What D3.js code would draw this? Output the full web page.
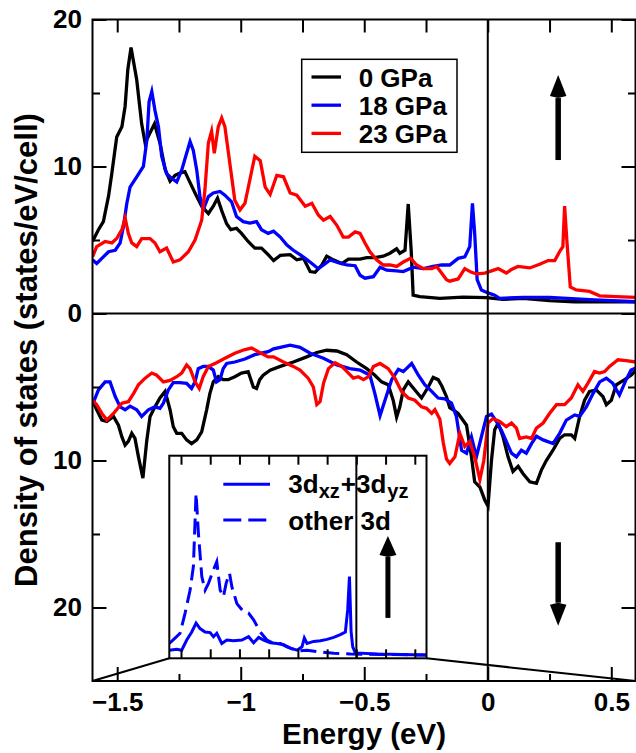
<!DOCTYPE html>
<html>
<head>
<meta charset="utf-8">
<script src="https://cdn.jsdelivr.net/npm/d3@7"></script>
<style>
  body { margin: 0; background: #fff; }
  svg { display: block; }
  text { font-family: "Liberation Sans", Arial, Helvetica, sans-serif; font-weight: bold; fill: #000; }
</style>
</head>
<body>
<svg id="chart" width="636" height="753"></svg>
<script>
// ---- Spin-up DOS [energy (eV), states/eV/cell] ----
const up0GPa = [[-1.600,4.9],[-1.576,5.7],[-1.556,6.25],[-1.535,8.0],[-1.522,9.5],[-1.502,12.0],[-1.481,12.7],[-1.468,14.1],[-1.457,16.6],[-1.444,18.1],[-1.421,15.9],[-1.401,12.9],[-1.387,11.6],[-1.367,12.3],[-1.349,12.9],[-1.327,11.6],[-1.306,9.8],[-1.286,9.0],[-1.266,9.4],[-1.246,9.55],[-1.226,9.65],[-1.205,8.9],[-1.185,8.2],[-1.158,7.3],[-1.131,6.8],[-1.111,7.3],[-1.094,7.85],[-1.077,7.0],[-1.057,6.1],[-1.040,5.7],[-1.017,5.8],[-0.997,5.45],[-0.970,4.9],[-0.943,4.45],[-0.916,4.45],[-0.889,4.0],[-0.867,3.6],[-0.840,3.95],[-0.800,4.0],[-0.773,3.65],[-0.746,3.75],[-0.719,2.85],[-0.699,2.8],[-0.672,3.3],[-0.652,3.9],[-0.625,3.65],[-0.591,3.4],[-0.564,3.7],[-0.517,3.7],[-0.490,3.8],[-0.457,3.8],[-0.423,3.9],[-0.396,4.1],[-0.369,4.4],[-0.356,4.1],[-0.335,4.3],[-0.322,7.45],[-0.310,4.3],[-0.302,1.25],[-0.275,1.15],[-0.194,1.03],[-0.100,1.12],[-0.005,1.08],[0.060,0.96],[0.143,1.03],[0.250,0.87],[0.350,0.8],[0.600,0.8]];

const up18GPa = [[-1.600,3.65],[-1.583,3.4],[-1.556,3.85],[-1.535,4.2],[-1.508,4.3],[-1.488,4.8],[-1.475,5.9],[-1.461,7.5],[-1.448,8.6],[-1.421,9.3],[-1.394,10.0],[-1.380,11.8],[-1.371,14.4],[-1.360,15.1],[-1.347,13.8],[-1.333,12.7],[-1.320,10.7],[-1.300,9.5],[-1.280,9.2],[-1.259,8.95],[-1.239,9.75],[-1.219,10.9],[-1.205,11.7],[-1.192,11.1],[-1.178,9.75],[-1.165,7.95],[-1.152,7.05],[-1.131,7.95],[-1.111,8.2],[-1.084,8.3],[-1.064,8.05],[-1.037,7.6],[-1.017,6.6],[-0.990,6.25],[-0.963,6.15],[-0.936,6.25],[-0.916,5.7],[-0.889,5.45],[-0.867,5.6],[-0.840,5.2],[-0.813,4.65],[-0.787,4.3],[-0.760,4.0],[-0.739,3.75],[-0.712,3.4],[-0.686,3.05],[-0.665,3.3],[-0.638,3.65],[-0.605,3.45],[-0.571,3.3],[-0.537,3.25],[-0.517,2.6],[-0.497,2.4],[-0.463,2.5],[-0.436,3.15],[-0.409,2.95],[-0.369,2.9],[-0.342,2.85],[-0.302,3.15],[-0.261,3.05],[-0.221,3.2],[-0.187,3.3],[-0.154,3.3],[-0.120,3.75],[-0.093,3.85],[-0.073,4.55],[-0.062,7.5],[-0.053,5.45],[-0.043,2.3],[-0.026,1.6],[0.001,1.4],[0.028,1.25],[0.048,1.03],[0.143,1.1],[0.250,1.1],[0.412,0.95],[0.600,0.8]];

const up23GPa = [[-1.600,3.85],[-1.583,4.55],[-1.549,4.9],[-1.522,4.8],[-1.502,5.1],[-1.481,5.7],[-1.468,6.5],[-1.455,5.45],[-1.441,4.8],[-1.421,4.55],[-1.401,5.1],[-1.367,5.1],[-1.347,4.8],[-1.327,4.2],[-1.300,4.45],[-1.273,3.5],[-1.246,3.65],[-1.212,4.2],[-1.185,5.0],[-1.158,6.35],[-1.145,8.4],[-1.131,11.6],[-1.118,12.4],[-1.107,10.9],[-1.091,12.7],[-1.077,13.3],[-1.064,12.7],[-1.044,10.2],[-1.024,7.7],[-1.003,7.05],[-0.983,7.5],[-0.963,9.1],[-0.943,10.7],[-0.921,10.4],[-0.901,8.6],[-0.881,8.1],[-0.854,9.4],[-0.827,9.3],[-0.800,8.2],[-0.773,8.05],[-0.739,7.3],[-0.712,7.5],[-0.686,6.7],[-0.665,6.35],[-0.638,6.6],[-0.611,6.0],[-0.585,5.2],[-0.564,5.2],[-0.537,5.55],[-0.517,5.45],[-0.497,4.8],[-0.477,4.2],[-0.450,3.65],[-0.423,3.3],[-0.396,3.3],[-0.369,3.2],[-0.342,3.5],[-0.312,3.75],[-0.288,3.3],[-0.261,3.05],[-0.227,3.05],[-0.207,3.2],[-0.187,2.75],[-0.167,2.3],[-0.154,2.2],[-0.120,2.35],[-0.093,3.05],[-0.066,2.8],[-0.046,2.7],[-0.012,2.75],[0.015,2.9],[0.042,3.05],[0.075,2.75],[0.096,3.0],[0.122,3.2],[0.170,3.1],[0.210,3.35],[0.244,3.6],[0.271,3.6],[0.294,4.3],[0.304,4.55],[0.311,7.3],[0.320,5.0],[0.334,1.8],[0.358,1.6],[0.412,1.5],[0.453,1.2],[0.520,1.15],[0.600,1.1]];

// ---- Spin-down DOS (magnitudes; drawn below the zero line) ----
const down0GPa = [[-1.600,5.9],[-1.583,6.55],[-1.562,7.25],[-1.542,7.35],[-1.515,7.0],[-1.495,7.6],[-1.481,8.4],[-1.468,8.95],[-1.455,8.7],[-1.441,8.15],[-1.428,8.5],[-1.414,9.75],[-1.396,11.2],[-1.380,8.6],[-1.367,7.0],[-1.347,6.35],[-1.327,5.75],[-1.306,5.3],[-1.286,6.55],[-1.273,7.7],[-1.259,8.15],[-1.239,8.15],[-1.219,8.6],[-1.199,8.85],[-1.178,8.6],[-1.158,8.05],[-1.138,6.55],[-1.125,5.45],[-1.111,4.65],[-1.091,4.3],[-1.071,4.5],[-1.051,4.5],[-1.024,4.3],[-0.997,4.05],[-0.970,3.95],[-0.949,5.0],[-0.936,5.1],[-0.923,4.5],[-0.909,4.2],[-0.881,3.85],[-0.840,3.6],[-0.787,3.3],[-0.733,2.95],[-0.692,2.65],[-0.652,2.5],[-0.611,2.55],[-0.571,2.8],[-0.531,3.3],[-0.490,3.75],[-0.457,4.2],[-0.430,4.65],[-0.403,4.85],[-0.383,5.9],[-0.369,7.05],[-0.356,6.35],[-0.342,5.2],[-0.322,4.65],[-0.295,5.2],[-0.268,5.75],[-0.241,5.0],[-0.221,4.35],[-0.201,4.5],[-0.187,4.9],[-0.167,5.66],[-0.154,6.4],[-0.140,6.55],[-0.120,6.8],[-0.086,7.6],[-0.066,9.75],[-0.053,11.45],[-0.032,11.8],[-0.012,12.7],[0.001,13.1],[0.015,10.0],[0.028,7.9],[0.042,7.45],[0.062,8.4],[0.082,9.75],[0.102,10.75],[0.123,10.4],[0.143,10.9],[0.170,11.45],[0.197,11.55],[0.217,10.65],[0.237,10.0],[0.264,9.3],[0.291,8.5],[0.311,8.25],[0.338,8.25],[0.352,8.5],[0.372,7.0],[0.392,5.9],[0.412,5.3],[0.439,5.2],[0.466,5.65],[0.480,6.2],[0.500,5.9],[0.520,4.85],[0.554,4.5],[0.580,4.2],[0.600,3.85]];

const down18GPa = [[-1.600,6.2],[-1.576,5.2],[-1.549,4.65],[-1.529,4.65],[-1.508,5.65],[-1.488,6.35],[-1.468,6.55],[-1.448,6.3],[-1.421,6.55],[-1.401,7.0],[-1.374,6.55],[-1.347,6.35],[-1.327,6.45],[-1.313,6.1],[-1.293,5.2],[-1.273,4.7],[-1.246,4.7],[-1.219,4.75],[-1.199,5.1],[-1.185,4.65],[-1.172,3.75],[-1.152,3.6],[-1.131,3.6],[-1.111,3.85],[-1.098,4.65],[-1.084,4.5],[-1.071,3.75],[-1.057,3.4],[-1.024,3.3],[-0.983,3.1],[-0.943,2.8],[-0.889,2.6],[-0.867,2.4],[-0.800,2.15],[-0.760,2.3],[-0.719,2.7],[-0.665,3.05],[-0.611,3.5],[-0.558,3.75],[-0.517,3.85],[-0.477,4.2],[-0.457,5.45],[-0.436,6.95],[-0.416,5.9],[-0.389,4.5],[-0.362,3.8],[-0.342,3.95],[-0.308,3.4],[-0.281,4.2],[-0.255,4.85],[-0.227,5.3],[-0.201,5.75],[-0.174,5.8],[-0.147,6.1],[-0.127,7.0],[-0.106,9.3],[-0.086,9.5],[-0.066,8.4],[-0.046,9.75],[-0.026,8.4],[-0.005,7.0],[0.015,6.85],[0.035,7.35],[0.055,7.95],[0.075,8.7],[0.096,9.5],[0.116,9.75],[0.136,9.3],[0.156,9.5],[0.177,8.85],[0.197,8.35],[0.224,8.6],[0.264,8.85],[0.291,8.15],[0.318,7.25],[0.352,6.9],[0.372,7.0],[0.399,6.35],[0.426,5.45],[0.453,4.65],[0.480,4.4],[0.506,4.75],[0.533,5.55],[0.560,4.5],[0.580,3.85],[0.600,3.7]];

const down23GPa = [[-1.600,5.9],[-1.583,6.2],[-1.562,6.8],[-1.542,7.25],[-1.515,6.8],[-1.481,6.1],[-1.455,6.0],[-1.434,5.45],[-1.414,4.85],[-1.387,4.4],[-1.360,4.05],[-1.340,4.2],[-1.313,4.65],[-1.286,4.55],[-1.259,4.3],[-1.239,4.05],[-1.219,3.5],[-1.205,3.75],[-1.185,4.65],[-1.168,5.1],[-1.152,4.3],[-1.131,3.6],[-1.098,3.35],[-1.064,3.05],[-1.024,2.7],[-0.983,2.45],[-0.956,2.35],[-0.929,2.6],[-0.889,2.95],[-0.867,2.95],[-0.827,3.3],[-0.787,3.6],[-0.760,3.85],[-0.727,4.4],[-0.706,5.0],[-0.692,6.2],[-0.679,6.0],[-0.665,4.75],[-0.645,3.75],[-0.618,3.35],[-0.591,3.6],[-0.564,4.05],[-0.544,4.4],[-0.524,4.3],[-0.503,4.5],[-0.483,4.3],[-0.463,3.6],[-0.436,3.4],[-0.403,3.75],[-0.376,4.4],[-0.349,5.3],[-0.322,5.75],[-0.295,5.9],[-0.268,6.35],[-0.248,6.45],[-0.227,6.8],[-0.214,6.55],[-0.194,7.2],[-0.180,8.8],[-0.167,9.9],[-0.154,10.2],[-0.133,9.75],[-0.113,8.15],[-0.093,9.05],[-0.073,8.7],[-0.053,9.75],[-0.032,11.3],[-0.016,10.0],[0.001,7.45],[0.021,7.15],[0.048,7.35],[0.075,7.7],[0.096,7.45],[0.116,7.8],[0.129,8.5],[0.156,8.4],[0.177,8.5],[0.197,7.8],[0.224,7.45],[0.250,6.8],[0.278,6.2],[0.311,6.2],[0.338,5.75],[0.365,4.85],[0.385,5.3],[0.405,4.75],[0.432,3.95],[0.453,4.05],[0.473,3.95],[0.493,3.6],[0.527,3.15],[0.560,3.2],[0.600,3.3]];

// ---- Inset: orbital-resolved spin-up DOS at 18 GPa ----
const insetXzYz = [[-1.600,0.6],[-1.537,0.67],[-1.494,0.6],[-1.451,1.35],[-1.408,1.95],[-1.371,2.6],[-1.337,2.2],[-1.294,1.95],[-1.251,1.9],[-1.222,1.6],[-1.194,1.85],[-1.151,1.1],[-1.108,1.35],[-1.051,1.3],[-0.979,1.35],[-0.922,1.6],[-0.879,1.15],[-0.836,1.55],[-0.793,1.35],[-0.736,1.15],[-0.679,1.1],[-0.622,1.0],[-0.565,0.75],[-0.507,0.6],[-0.465,0.85],[-0.445,1.5],[-0.422,1.1],[-0.365,1.25],[-0.308,1.3],[-0.251,1.4],[-0.194,1.55],[-0.137,1.75],[-0.094,1.95],[-0.074,3.6],[-0.059,6.05],[-0.045,2.0],[-0.031,0.85],[-0.009,0.4],[0.177,0.32],[0.600,0.24]];
const insetOther3d = [[-1.600,1.1],[-1.551,1.5],[-1.508,1.85],[-1.465,3.35],[-1.422,5.05],[-1.394,6.8],[-1.371,12.2],[-1.351,9.25],[-1.322,6.05],[-1.294,5.05],[-1.265,5.55],[-1.222,6.55],[-1.194,7.15],[-1.165,5.05],[-1.137,4.55],[-1.114,5.55],[-1.085,6.3],[-1.065,5.3],[-1.022,4.05],[-0.965,3.45],[-0.922,3.35],[-0.879,2.85],[-0.822,1.95],[-0.765,1.35],[-0.708,1.1],[-0.650,1.1],[-0.593,0.85],[-0.536,0.65],[-0.479,0.55],[-0.422,0.6],[-0.336,0.5],[-0.194,0.37],[-0.051,0.32],[0.600,0.24]];

// ---- Axis ticks and labels ----
const xMajorTicks = [-1.5, -1, -0.5, 0, 0.5];
const xMinorTicks = [-1.25, -0.75, -0.25, 0.25];
const yMajorTicks = [20, 10, 0, -10, -20];
const yMinorTicks = [15, 5, -5, -15];
const seriesNames = ["0 GPa", "18 GPa", "23 GPa"];
const seriesColors = ["#000000", "#0000ff", "#ff0000"];
const insetNames = ["3d", "other 3d"];

const series = [
  { name: seriesNames[0], color: seriesColors[0], up: up0GPa, down: down0GPa },
  { name: seriesNames[1], color: seriesColors[1], up: up18GPa, down: down18GPa },
  { name: seriesNames[2], color: seriesColors[2], up: up23GPa, down: down23GPa }
];

const FONT = '"Liberation Sans", Arial, Helvetica, sans-serif';
const svg = d3.select("#chart");

// plot frame
const X0 = 92.5, X1 = 635.5, Y0 = 19.5, Y1 = 681;
const x = d3.scaleLinear().domain([-1.6, 0.6]).range([X0, 636]);
const y = d3.scaleLinear().domain([20, -25]).range([Y0, Y1]);

const defs = svg.append("defs");
defs.append("clipPath").attr("id", "plotClip")
  .append("rect").attr("x", X0).attr("y", Y0).attr("width", X1 - X0).attr("height", Y1 - Y0);

const upLine = d3.line().x(d => x(d[0])).y(d => y(d[1]));
const downLine = d3.line().x(d => x(d[0])).y(d => y(-d[1]));

const curves = svg.append("g").attr("clip-path", "url(#plotClip)");
series.forEach(s => {
  [upLine(s.up), downLine(s.down)].forEach(p => {
    curves.append("path").attr("d", p)
      .attr("fill", "none").attr("stroke", s.color)
      .attr("stroke-width", 3.3).attr("stroke-linejoin", "miter").attr("stroke-miterlimit", 6);
  });
});

// zero lines: spin separator and Fermi level
svg.append("line").attr("x1", X0).attr("x2", X1).attr("y1", y(0)).attr("y2", y(0))
  .attr("stroke", "#000").attr("stroke-width", 2);
svg.append("line").attr("x1", x(0)).attr("x2", x(0)).attr("y1", Y0).attr("y2", Y1)
  .attr("stroke", "#000").attr("stroke-width", 2);

function styleAxis(g, size) {
  g.select(".domain").remove();
  g.attr("font-family", FONT).attr("font-size", size).attr("font-weight", "bold");
  g.selectAll(".tick line").attr("stroke", "#000").attr("stroke-width", 2);
  g.selectAll(".tick text").attr("fill", "#000");
}
const xFmt = d => (d < 0 ? "\u2212" : "") + Math.abs(d);

styleAxis(svg.append("g").attr("transform", `translate(${X0},0)`)
  .call(d3.axisLeft(y).tickValues(yMajorTicks).tickSize(-14).tickPadding(10.5).tickFormat(d => Math.abs(d))), 26);
styleAxis(svg.append("g").attr("transform", `translate(${X0},0)`)
  .call(d3.axisLeft(y).tickValues(yMinorTicks).tickSize(-7.5).tickFormat("")), 26);
styleAxis(svg.append("g").attr("transform", `translate(${X1},0)`)
  .call(d3.axisRight(y).tickValues(yMajorTicks).tickSize(-14).tickFormat("")), 26);
styleAxis(svg.append("g").attr("transform", `translate(${X1},0)`)
  .call(d3.axisRight(y).tickValues(yMinorTicks).tickSize(-7.5).tickFormat("")), 26);
styleAxis(svg.append("g").attr("transform", `translate(0,${Y1})`)
  .call(d3.axisBottom(x).tickValues(xMajorTicks).tickSize(-14).tickPadding(11.5).tickFormat(xFmt)), 26);
styleAxis(svg.append("g").attr("transform", `translate(0,${Y1})`)
  .call(d3.axisBottom(x).tickValues(xMinorTicks).tickSize(-7).tickFormat("")), 26);
styleAxis(svg.append("g").attr("transform", `translate(0,${Y0})`)
  .call(d3.axisTop(x).tickValues(xMajorTicks.concat(xMinorTicks)).tickSize(-13).tickFormat("")), 26);

svg.append("rect").attr("x", X0).attr("y", Y0).attr("width", X1 - X0).attr("height", Y1 - Y0)
  .attr("fill", "none").attr("stroke", "#000").attr("stroke-width", 2);

// axis titles
svg.append("text").attr("x", 364).attr("y", 743.5).attr("text-anchor", "middle")
  .attr("font-size", 29.5).text("Energy (eV)");
svg.append("text").attr("transform", "translate(36.5,350) rotate(-90)").attr("text-anchor", "middle")
  .attr("font-size", 31).text("Density of states (states/eV/cell)");

// legend
const leg = svg.append("g");
leg.append("rect").attr("x", 301.7).attr("y", 59.3).attr("width", 155.3).attr("height", 93)
  .attr("fill", "#fff").attr("stroke", "#000").attr("stroke-width", 1.5);
series.forEach((s, i) => {
  const cy = 77 + i * 28.2;
  leg.append("line").attr("x1", 311.5).attr("x2", 341).attr("y1", cy).attr("y2", cy)
    .attr("stroke", s.color).attr("stroke-width", 3.3);
  leg.append("text").attr("x", 358.7).attr("y", cy + 9.5).attr("font-size", 26).text(s.name);
});

// spin arrows
function arrow(g, ax, yTail, yTip, shaftW, headW, headL) {
  const dir = yTip < yTail ? -1 : 1;
  const yBase = yTip - dir * headL;
  g.append("line").attr("x1", ax).attr("x2", ax).attr("y1", yTail).attr("y2", yBase)
    .attr("stroke", "#000").attr("stroke-width", shaftW);
  g.append("path").attr("d", `M${ax},${yTip} L${ax - headW / 2},${yBase + dir * 2} L${ax},${yBase} L${ax + headW / 2},${yBase + dir * 2} Z`)
    .attr("fill", "#000");
}
arrow(svg, x(0.285), y(10.44), y(16.22), 5.5, 16.5, 23);
arrow(svg, x(0.285), y(-15.56), y(-21.24), 5.5, 16.5, 23);

// ---- inset ----
const IX0 = 169.3, IX1 = 426.5, IY0 = 455.7, IY1 = 658.3;
const ix = d3.scaleLinear().domain([-1.6, 0.6]).range([IX0, IX1]);
const iy = d3.scaleLinear().domain([0, 15]).range([IY1, IY0]);

// connectors from the inset to the bottom corners of the main frame
svg.append("line").attr("x1", IX0).attr("y1", IY1).attr("x2", X0).attr("y2", Y1)
  .attr("stroke", "#000").attr("stroke-width", 2);
svg.append("line").attr("x1", IX1).attr("y1", IY1).attr("x2", X1).attr("y2", Y1)
  .attr("stroke", "#000").attr("stroke-width", 2);

const inset = svg.append("g");
inset.append("rect").attr("x", IX0).attr("y", IY0).attr("width", IX1 - IX0).attr("height", IY1 - IY0)
  .attr("fill", "#fff");
defs.append("clipPath").attr("id", "insetClip")
  .append("rect").attr("x", IX0).attr("y", IY0).attr("width", IX1 - IX0).attr("height", IY1 - IY0);

const iLine = d3.line().x(d => ix(d[0])).y(d => iy(d[1]));
const ic = inset.append("g").attr("clip-path", "url(#insetClip)");
ic.append("path").attr("d", iLine(insetOther3d)).attr("fill", "none").attr("stroke", "#0000ff")
  .attr("stroke-width", 3).attr("stroke-dasharray", "16,7").attr("stroke-linejoin", "miter").attr("stroke-miterlimit", 6);
ic.append("path").attr("d", iLine(insetXzYz)).attr("fill", "none").attr("stroke", "#0000ff")
  .attr("stroke-width", 3).attr("stroke-linejoin", "miter").attr("stroke-miterlimit", 6);

inset.append("line").attr("x1", ix(0)).attr("x2", ix(0)).attr("y1", IY0).attr("y2", IY1)
  .attr("stroke", "#000").attr("stroke-width", 2);
const insetTicks = xMajorTicks.concat(xMinorTicks);
styleAxis(inset.append("g").attr("transform", `translate(0,${IY0})`)
  .call(d3.axisTop(ix).tickValues(insetTicks).tickSize(-9).tickFormat("")), 26);
styleAxis(inset.append("g").attr("transform", `translate(0,${IY1})`)
  .call(d3.axisBottom(ix).tickValues(insetTicks).tickSize(-9).tickFormat("")), 26);
inset.append("rect").attr("x", IX0).attr("y", IY0).attr("width", IX1 - IX0).attr("height", IY1 - IY0)
  .attr("fill", "none").attr("stroke", "#000").attr("stroke-width", 2);

// inset legend
inset.append("line").attr("x1", 223.3).attr("x2", 270).attr("y1", 484.3).attr("y2", 484.3)
  .attr("stroke", "#0000ff").attr("stroke-width", 3);
inset.append("line").attr("x1", 223.3).attr("x2", 270).attr("y1", 520).attr("y2", 520)
  .attr("stroke", "#0000ff").attr("stroke-width", 3).attr("stroke-dasharray", "18,7");
const t1 = inset.append("text").attr("x", 288.3).attr("y", 493.3).attr("font-size", 26);
t1.append("tspan").text(insetNames[0]);
t1.append("tspan").attr("font-size", 20).attr("dy", 4.5).text("xz");
t1.append("tspan").attr("dy", -4.5).attr("dx", 1).text("+3d");
t1.append("tspan").attr("font-size", 20).attr("dy", 4.5).attr("dx", 1).text("yz");
inset.append("text").attr("x", 288.3).attr("y", 530).attr("font-size", 26).text(insetNames[1]);

arrow(inset, ix(0.27), iy(2.99), iy(9.06), 5, 17, 21);
</script>
</body>
</html>
